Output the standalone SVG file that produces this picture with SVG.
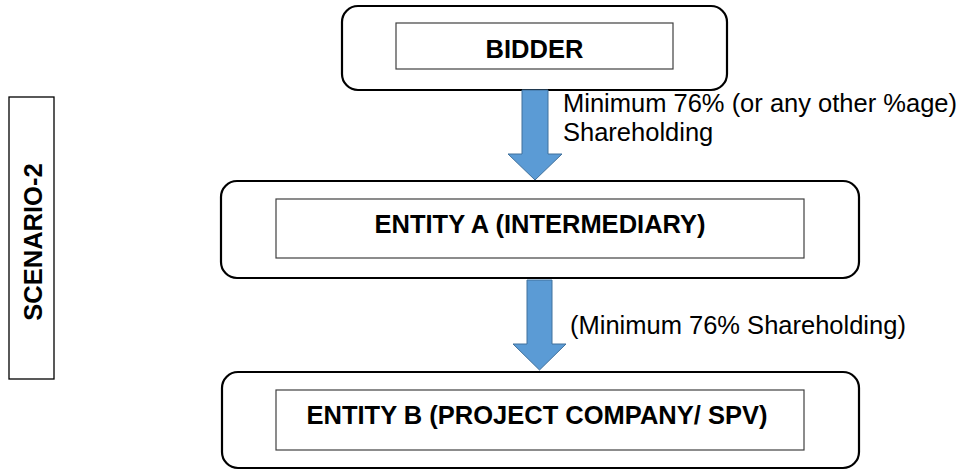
<svg xmlns="http://www.w3.org/2000/svg" width="972" height="470" viewBox="0 0 972 470">
  <style>
    .outer { fill: #ffffff; stroke: #000000; stroke-width: 2.2; }
    .inner { fill: #ffffff; stroke: #404040; stroke-width: 1.2; }
    .title { font-family: "Liberation Sans", Arial, sans-serif; font-weight: bold; font-size: 25.5px; fill: #000000; text-anchor: middle; }
    .label { font-family: "Liberation Sans", Arial, sans-serif; font-size: 25.5px; fill: #000000; }
    .arrow { fill: #5B9BD5; stroke: #41719C; stroke-width: 1; }
  </style>

  <!-- side tag -->
  <g id="scenario">
    <rect x="9" y="97" width="45" height="282" fill="#ffffff" stroke="#000000" stroke-width="1.3"/>
    <text class="title" transform="translate(42,242) rotate(-90)">SCENARIO-2</text>
  </g>

  <!-- holding chain -->
  <g id="bidder">
    <rect class="outer" x="342" y="6" width="385" height="84" rx="16"/>
    <rect class="inner" x="396" y="23" width="277" height="46"/>
    <text class="title" x="534.5" y="58">BIDDER</text>
  </g>

  <g id="entity-a">
    <rect class="outer" x="221" y="181" width="638" height="97" rx="16"/>
    <rect class="inner" x="276" y="199" width="528" height="59"/>
    <text class="title" x="540" y="233">ENTITY A (INTERMEDIARY)</text>
  </g>

  <g id="entity-b">
    <rect class="outer" x="222" y="372" width="637" height="96" rx="16"/>
    <rect class="inner" x="276" y="390" width="528" height="60"/>
    <text class="title" x="537" y="424">ENTITY B (PROJECT COMPANY/ SPV)</text>
  </g>

  <!-- shareholding arrows -->
  <g id="connectors">
    <path class="arrow" d="M522,90 H548 V154 H562 L535,180 L508,154 H522 Z"/>
    <text class="label" x="563" y="112">Minimum 76% (or any other %age)</text>
    <text class="label" x="563" y="141">Shareholding</text>

    <path class="arrow" d="M527,280 H552 V344 H566 L539.5,370 L513,344 H527 Z"/>
    <text class="label" x="570" y="334">(Minimum 76% Shareholding)</text>
  </g>
</svg>
